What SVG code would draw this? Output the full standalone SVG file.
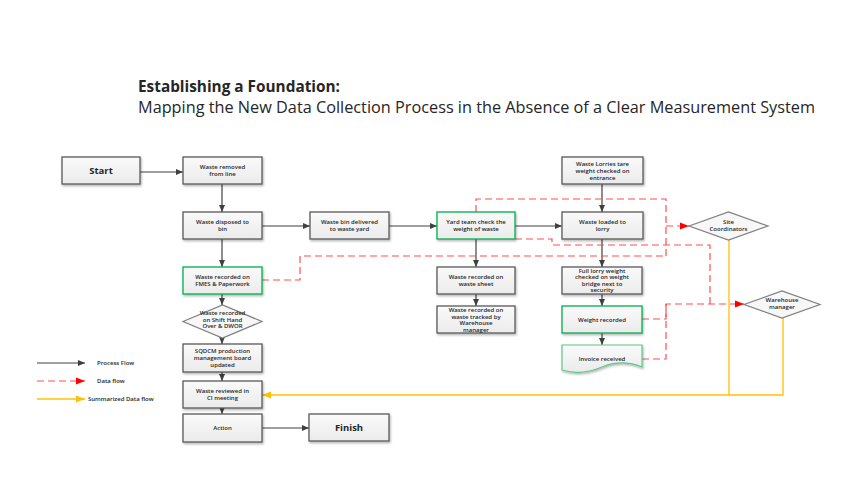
<svg xmlns="http://www.w3.org/2000/svg" width="852" height="500" viewBox="0 0 852 500">
<defs>
<linearGradient id="g" x1="0" y1="0" x2="0" y2="1"><stop offset="0" stop-color="#fafafa"/><stop offset="1" stop-color="#ebebeb"/></linearGradient>
<filter id="sh" x="-10%" y="-10%" width="130%" height="140%"><feDropShadow dx="1" dy="1.5" stdDeviation="0.8" flood-color="#000" flood-opacity="0.3"/></filter>
<marker id="ap" markerWidth="8" markerHeight="8" refX="7" refY="4" orient="auto" markerUnits="userSpaceOnUse"><path d="M0,1 L7,4 L0,7 Z" fill="#404040"/></marker>
<marker id="ar" markerWidth="10" markerHeight="8" refX="9" refY="4" orient="auto" markerUnits="userSpaceOnUse"><path d="M0,0.5 L9,4 L0,7.5 Z" fill="#ff0000"/></marker>
<marker id="ay" markerWidth="10" markerHeight="8" refX="9" refY="4" orient="auto" markerUnits="userSpaceOnUse"><path d="M0,0.5 L9,4 L0,7.5 Z" fill="#ffc000"/></marker>
</defs>
<style>
.box{fill:url(#g);stroke:#595959;stroke-width:1.3;filter:url(#sh)}
.grn{fill:url(#g);stroke:#00b050;stroke-width:1.3;filter:url(#sh)}
.dia{fill:#f7f7f7;stroke:#7f7f7f;stroke-width:1.2}
.t{font-family:"Open Sans","Liberation Sans",Arial,sans-serif;font-size:6px;font-weight:600;fill:#262626;text-anchor:middle}
.tb{font-family:"Open Sans","Liberation Sans",Arial,sans-serif;font-size:9.5px;font-weight:bold;fill:#262626;text-anchor:middle}
.lg{font-family:"Open Sans","Liberation Sans",Arial,sans-serif;font-size:6px;font-weight:600;fill:#262626}
.p{fill:none;stroke:#404040;stroke-width:1.2;marker-end:url(#ap)}
.d{fill:none;stroke:#ff5050;stroke-width:1.2;stroke-dasharray:7,4}
.y{fill:none;stroke:#ffc000;stroke-width:1.3}
</style>
<rect width="852" height="500" fill="#fff"/>
<text x="138" y="92" font-family="Open Sans,Liberation Sans,sans-serif" font-size="15.5" font-weight="bold" fill="#262626" textLength="202" lengthAdjust="spacingAndGlyphs">Establishing a Foundation:</text>
<text x="138" y="113" font-family="Open Sans,Liberation Sans,sans-serif" font-size="15.5" fill="#262626" textLength="677" lengthAdjust="spacingAndGlyphs">Mapping the New Data Collection Process in the Absence of a Clear Measurement System</text>

<g id="connectors">
<path class="p" d="M140,172 H183"/>
<path class="p" d="M222,184 V212"/>
<path class="p" d="M262,226 H310"/>
<path class="p" d="M389,226 H437"/>
<path class="p" d="M515,226 H562"/>
<path class="p" d="M602,184 V212"/>
<path class="p" d="M602,239 V267"/>
<path class="p" d="M602,294 V306"/>
<path class="p" d="M602,333 V345"/>
<path class="p" d="M476,239 V267"/>
<path class="p" d="M476,294 V306"/>
<path class="p" d="M222,239 V267"/>
<path class="p" d="M222,294 V305"/>
<path class="p" d="M222,338 V344"/>
<path class="p" d="M222,372 V381"/>
<path class="p" d="M222,408 V414"/>
<path class="p" d="M262,428 H309"/>
<path class="d" d="M476,212 V199 H666 V257"/>
<path class="d" d="M262,280 H300 V256 H666"/>
<path class="d" d="M666,226 H689" marker-end="url(#ar)"/>
<path class="d" d="M515,239 H552 V245 H710 V304"/>
<path class="d" d="M642,319 H666 V304"/>
<path class="d" d="M642,359 H666 V304 H744" marker-end="url(#ar)"/>
<path class="y" d="M729,239 V395"/>
<path class="y" d="M783,318 V395 H262" marker-end="url(#ay)"/>
</g>

<g id="start"><rect class="box" x="62" y="157" width="78" height="27"/><text class="tb" x="101" y="174">Start</text></g>
<g id="n1"><rect class="box" x="183" y="157" width="79" height="27"/><text class="t" x="222.5" y="169">Waste removed</text><text class="t" x="222.5" y="176">from line</text></g>
<g id="n2"><rect class="box" x="183" y="212" width="79" height="27"/><text class="t" x="222.5" y="224">Waste disposed to</text><text class="t" x="222.5" y="231">bin</text></g>
<g id="n3"><rect class="box" x="310" y="212" width="79" height="27"/><text class="t" x="349.5" y="224">Waste bin delivered</text><text class="t" x="349.5" y="231">to waste yard</text></g>
<g id="n4"><rect class="grn" x="437" y="212" width="78" height="27"/><text class="t" x="476" y="224">Yard team check the</text><text class="t" x="476" y="231">weight of waste</text></g>
<g id="n5"><rect class="box" x="562" y="157" width="81" height="27"/><text class="t" x="602.5" y="166">Waste Lorries tare</text><text class="t" x="602.5" y="173">weight checked on</text><text class="t" x="602.5" y="180">entrance</text></g>
<g id="n6"><rect class="box" x="562" y="212" width="81" height="27"/><text class="t" x="602.5" y="224">Waste loaded to</text><text class="t" x="602.5" y="231">lorry</text></g>
<g id="site"><path class="dia" d="M689,226 L728.5,212 L768,226 L728.5,240 Z"/><text class="t" x="728.5" y="224">Site</text><text class="t" x="728.5" y="231">Coordinators</text></g>
<g id="n7"><rect class="grn" x="183" y="267" width="79" height="27"/><text class="t" x="222.5" y="279">Waste recorded on</text><text class="t" x="222.5" y="286">FMES &amp; Paperwork</text></g>
<g id="n8"><path class="dia" d="M183,321.5 L222.5,305 L262,321.5 L222.5,338 Z"/><text class="t" x="222.5" y="315">Waste recorded</text><text class="t" x="222.5" y="321.5">on Shift Hand</text><text class="t" x="222.5" y="328">Over &amp; DWOR</text></g>
<g id="n9"><rect class="box" x="183" y="344" width="79" height="28"/><text class="t" x="222.5" y="353">SQDCM production</text><text class="t" x="222.5" y="360">management board</text><text class="t" x="222.5" y="367">updated</text></g>
<g id="n10"><rect class="box" x="183" y="381" width="79" height="27"/><text class="t" x="222.5" y="393">Waste reviewed in</text><text class="t" x="222.5" y="400">CI meeting</text></g>
<g id="n11"><rect class="box" x="183" y="414" width="79" height="28"/><text class="t" x="222.5" y="430">Action</text></g>
<g id="finish"><rect class="box" x="309" y="414" width="80" height="27"/><text class="tb" x="349" y="431">Finish</text></g>
<g id="n12"><rect class="box" x="437" y="267" width="78" height="27"/><text class="t" x="476" y="279">Waste recorded on</text><text class="t" x="476" y="286">waste sheet</text></g>
<g id="n13"><rect class="box" x="437" y="306" width="78" height="27"/><text class="t" x="476" y="312">Waste recorded on</text><text class="t" x="476" y="318.5">waste tracked by</text><text class="t" x="476" y="325">Warehouse</text><text class="t" x="476" y="331.5">manager</text></g>
<g id="n14"><rect class="box" x="562" y="267" width="80" height="27"/><text class="t" x="602" y="272.5">Full lorry weight</text><text class="t" x="602" y="279">checked on weight</text><text class="t" x="602" y="285.5">bridge next to</text><text class="t" x="602" y="292">security</text></g>
<g id="n15"><rect class="grn" x="562" y="306" width="80" height="27"/><text class="t" x="602" y="322">Weight recorded</text></g>
<g id="n16"><path d="M562,345 H642 V367 C627,361 614,362 602,367 C590,372 575,374 562,370 Z" fill="url(#g)" stroke="#5cc787" stroke-width="1.2" filter="url(#sh)"/><text class="t" x="602" y="361">Invoice received</text></g>
<g id="wm"><path class="dia" d="M744,304.5 L782,291 L820,304.5 L782,318 Z"/><text class="t" x="782" y="302">Warehouse</text><text class="t" x="782" y="309">manager</text></g>

<g id="legend">
<path class="p" d="M37,363 H85"/><text class="lg" x="97" y="365">Process Flow</text>
<path class="d" d="M37,381 H85" marker-end="url(#ar)"/><text class="lg" x="97" y="383">Data flow</text>
<path class="y" d="M37,399 H85" marker-end="url(#ay)"/><text class="lg" x="88" y="401">Summarized Data flow</text>
</g>
</svg>
